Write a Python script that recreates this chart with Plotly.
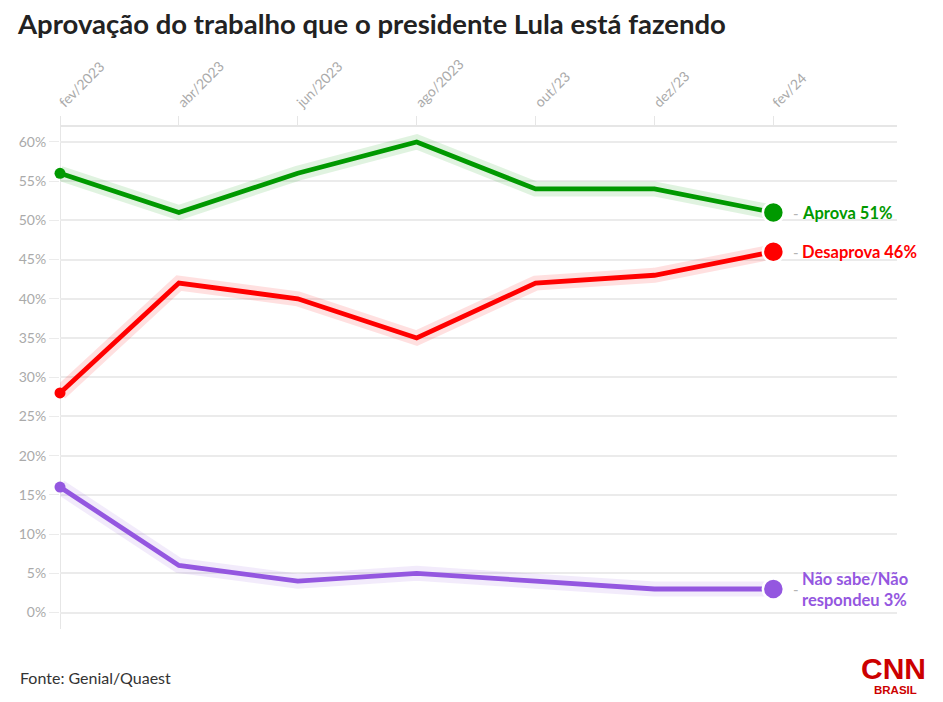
import plotly.graph_objects as go

meses = ["fev/2023", "abr/2023", "jun/2023", "ago/2023", "out/23", "dez/23", "fev/24"]
aprova = [56, 51, 56, 60, 54, 54, 51]
desaprova = [28, 42, 40, 35, 42, 43, 46]
nao_sabe = [16, 6, 4, 5, 4, 3, 3]

series = [
    ("Aprova", aprova, "#009900", "rgba(0,153,0,0.12)"),
    ("Desaprova", desaprova, "#ff0000", "rgba(255,0,0,0.12)"),
    ("Não sabe/Não<br>respondeu", nao_sabe, "#9457e0", "rgba(148,87,224,0.12)"),
]

FONT = "Lato"
# a página tem 8px de margem no body, então a figura fica 8px menor
OFF = 8
W, H = 943 - OFF, 702 - OFF
ML, MR, MT, MB = 60 - OFF, 46, 127 - OFF, 73
x = list(range(len(meses)))


def px_paper(px, py):
    # converte pixels da janela em coordenadas paper
    px, py = px - OFF, py - OFF
    return (px - ML) / (W - ML - MR), (H - MB - py) / (H - MT - MB)


fig = go.Figure()
for nome, vals, cor, halo in series:
    # faixa clara por trás da linha
    fig.add_trace(go.Scatter(x=x, y=vals, mode="lines", line=dict(color=halo, width=15),
                             hoverinfo="skip", cliponaxis=False))
    fig.add_trace(go.Scatter(x=x, y=vals, mode="lines", line=dict(color=cor, width=4.8),
                             name=nome, cliponaxis=False))

# marcadores por cima de todas as linhas
for nome, vals, cor, halo in series:
    fig.add_trace(go.Scatter(x=[x[0]], y=[vals[0]], mode="markers",
                             marker=dict(color=cor, size=11, line=dict(width=0)),
                             hoverinfo="skip", cliponaxis=False))
    fig.add_trace(go.Scatter(x=[x[-1]], y=[vals[-1]], mode="markers",
                             marker=dict(color=cor, size=21, line=dict(color="white", width=2.5)),
                             hoverinfo="skip", cliponaxis=False))
    fig.add_annotation(x=x[-1], y=vals[-1], xref="x", yref="y", xanchor="left",
                       xshift=18, showarrow=False, text="-",
                       font=dict(family=FONT, size=15, color="#b4b4b4"))
    fig.add_annotation(x=x[-1], y=vals[-1], xref="x", yref="y", xanchor="left", align="left",
                       xshift=27, showarrow=False, text=f"<b>{nome} {vals[-1]}%</b>",
                       font=dict(family=FONT, size=16.5, color=cor))

fx, fy = px_paper(18, 677)
fig.add_annotation(xref="paper", yref="paper", x=fx, y=fy, xanchor="left", yanchor="middle",
                   text="Fonte: Genial/Quaest", showarrow=False,
                   font=dict(family=FONT, size=16, color="#333333"))
cx, cy = px_paper(893, 668)
fig.add_annotation(xref="paper", yref="paper", x=cx, y=cy, xanchor="center", yanchor="middle",
                   text="<b>CNN</b>", showarrow=False,
                   font=dict(family="Liberation Sans", size=30, color="#cc0000"))
bx, by = px_paper(895, 690)
fig.add_annotation(xref="paper", yref="paper", x=bx, y=by, xanchor="center", yanchor="middle",
                   text="<b>BRASIL</b>", showarrow=False,
                   font=dict(family="Liberation Sans", size=11.5, color="#cc0000"))

fig.update_layout(
    width=W, height=H,
    margin=dict(l=ML, r=MR, t=MT, b=MB),
    paper_bgcolor="white", plot_bgcolor="white",
    showlegend=False,
    title=dict(text="<b>Aprovação do trabalho que o presidente Lula está fazendo</b>",
               xref="container", x=10 / W, xanchor="left", yref="container", y=1 - 16 / H, yanchor="middle",
               font=dict(family=FONT, size=27.5, color="#222222")),
    xaxis=dict(range=[0, 7.04], side="top", tickvals=x, ticktext=meses, tickangle=-45,
               automargin=False,
               showgrid=False, zeroline=False, showline=True, linecolor="#e6e6e6", linewidth=2,
               ticks="outside", ticklen=9, tickcolor="#e6e6e6",
               tickfont=dict(family=FONT, size=14, color="#aaaaaa")),
    yaxis=dict(range=[-2.1, 61.9], tickvals=list(range(0, 61, 5)),
               ticktext=[f"{v}%" for v in range(0, 61, 5)], automargin=False,
               showgrid=True, gridcolor="#ebebeb", gridwidth=1.5, zeroline=False,
               ticks="outside", ticklen=10, tickcolor="#ebebeb",
               tickfont=dict(family=FONT, size=14, color="#aaaaaa")),
    shapes=[dict(type="line", xref="x", yref="paper", x0=0, x1=0, y0=0, y1=1,
                 line=dict(color="#e6e6e6", width=2), layer="below")],
)

fig.write_html("out.html")
